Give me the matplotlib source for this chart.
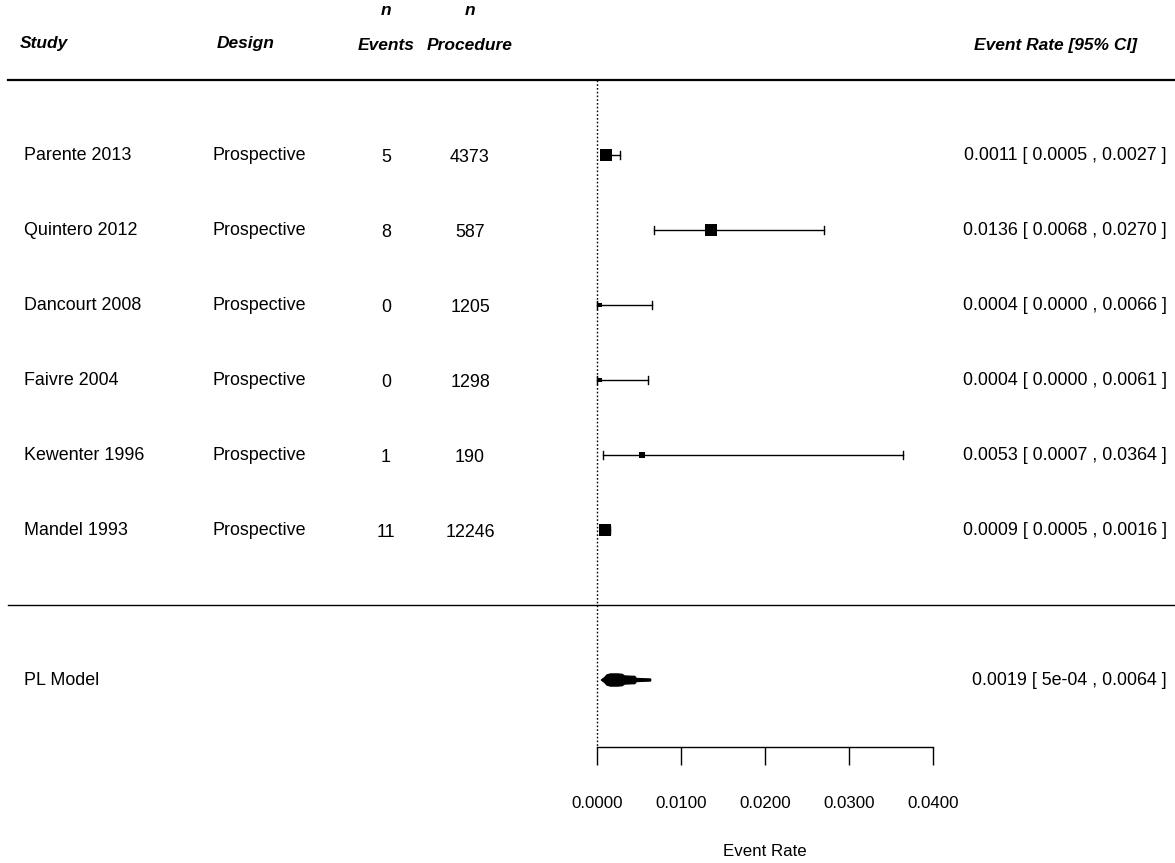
import matplotlib.pyplot as plt
import matplotlib.transforms as mtransforms

plt.rcParams['font.family'] = ['Liberation Sans', 'DejaVu Sans']

# study table
studies = ['Parente 2013', 'Quintero 2012', 'Dancourt 2008', 'Faivre 2004',
           'Kewenter 1996', 'Mandel 1993']
design = ['Prospective'] * 6
n_events = [5, 8, 0, 0, 1, 11]
n_proc = [4373, 587, 1205, 1298, 190, 12246]
rate = [0.0011, 0.0136, 0.0004, 0.0004, 0.0053, 0.0009]
ci_lo = [0.0005, 0.0068, 0.0000, 0.0000, 0.0007, 0.0005]
ci_hi = [0.0027, 0.0270, 0.0066, 0.0061, 0.0364, 0.0016]
box_px = [12, 12, 4, 3.5, 6.5, 13]   # square side, relative study weight

# pooled estimate
pl_est, pl_lo, pl_hi = 0.0019, 0.0005, 0.0064
pl_x = [0.0005, 0.0009, 0.0012, 0.0016, 0.0025, 0.0030, 0.0033, 0.0045, 0.0047, 0.0064]
pl_w = [0.0, 0.035, 0.07, 0.082, 0.082, 0.077, 0.055, 0.05, 0.022, 0.014]

ticks = [0.0, 0.01, 0.02, 0.03, 0.04]

fig = plt.figure(figsize=(11.75, 8.63), dpi=100)
ax = fig.add_axes([0, 0, 1, 1])
ax.set_xlim(-597 / 8400, (1175 - 597) / 8400)
ax.set_ylim(-3.44, 8.067)
for s in ['top', 'left', 'right']:
    ax.spines[s].set_visible(False)
ax.set_yticks([])

# bottom axis
ax.spines['bottom'].set_position(('data', -1.893))
ax.spines['bottom'].set_bounds(0, 0.04)
ax.spines['bottom'].set_linewidth(1.0)
ax.set_xticks(ticks)
ax.set_xticklabels([f'{t:.4f}' for t in ticks])
ax.tick_params(axis='x', direction='out', length=13, width=1.0, pad=22,
               labelsize=12.2)
ax.text(0.02, -3.28, 'Event Rate', ha='center', va='center', fontsize=12.2)

fs = 12.9
trans = mtransforms.blended_transform_factory(ax.transAxes, ax.transData)
W = 1175.0

# header
hdr = dict(fontsize=12.5, fontweight='bold', fontstyle='italic', va='center',
           transform=trans)
ax.text(20 / W, 7.49, 'Study', ha='left', **hdr)
ax.text(217 / W, 7.49, 'Design', ha='left', **hdr)
ax.text(386 / W, 7.93, 'n', ha='center', **hdr)
ax.text(386 / W, 7.46, 'Events', ha='center', **hdr)
ax.text(470 / W, 7.93, 'n', ha='center', **hdr)
ax.text(470 / W, 7.46, 'Procedure', ha='center', **hdr)
ax.text(1137 / W, 7.46, 'Event Rate [95% CI]', ha='right', **hdr)

ax.plot([8 / W, 1], [7.0, 7.0], color='black', lw=1.6, transform=trans,
        clip_on=False)
ax.plot([8 / W, 1], [0.0, 0.0], color='black', lw=1.0, transform=trans,
        clip_on=False)

# reference line at zero
ax.plot([0, 0], [7.0, -1.893], color='black', lw=1.0, ls=(0, (1.2, 1.5)))

rows = list(range(len(studies), 0, -1))
cap = 0.055
for i, y in enumerate(rows):
    ax.text(24 / W, y, studies[i], ha='left', va='center', fontsize=fs,
            transform=trans)
    ax.text(212 / W, y, design[i], ha='left', va='center', fontsize=fs,
            transform=trans)
    ax.text(386 / W, y - 0.03, str(n_events[i]), ha='center', va='center',
            fontsize=fs, transform=trans)
    ax.text(470 / W, y - 0.03, str(n_proc[i]), ha='center', va='center',
            fontsize=fs, transform=trans)
    ax.text(1167 / W, y,
            f'{rate[i]:.4f} [ {ci_lo[i]:.4f} , {ci_hi[i]:.4f} ]',
            ha='right', va='center', fontsize=fs, transform=trans)
    ax.plot([ci_lo[i], ci_hi[i]], [y, y], color='black', lw=1.0)
    ax.plot([ci_lo[i], ci_lo[i]], [y - cap, y + cap], color='black', lw=1.0)
    ax.plot([ci_hi[i], ci_hi[i]], [y - cap, y + cap], color='black', lw=1.0)
    ax.plot(rate[i], y, marker='s', color='black',
            markersize=box_px[i] / 1.389, markeredgewidth=0)

# pooled model row
ypl = -1
ax.text(24 / W, ypl, 'PL Model', ha='left', va='center', fontsize=fs,
        transform=trans)
ax.text(1167 / W, ypl, f'{pl_est:.4f} [ {pl_lo:.0e} , {pl_hi:.4f} ]',
        ha='right', va='center', fontsize=fs, transform=trans)
xs = pl_x + pl_x[::-1]
ys = [ypl + w for w in pl_w] + [ypl - w for w in pl_w[::-1]]
ax.fill(xs, ys, color='black', lw=0.8, edgecolor='black')

fig.savefig('out.png', dpi=100)
